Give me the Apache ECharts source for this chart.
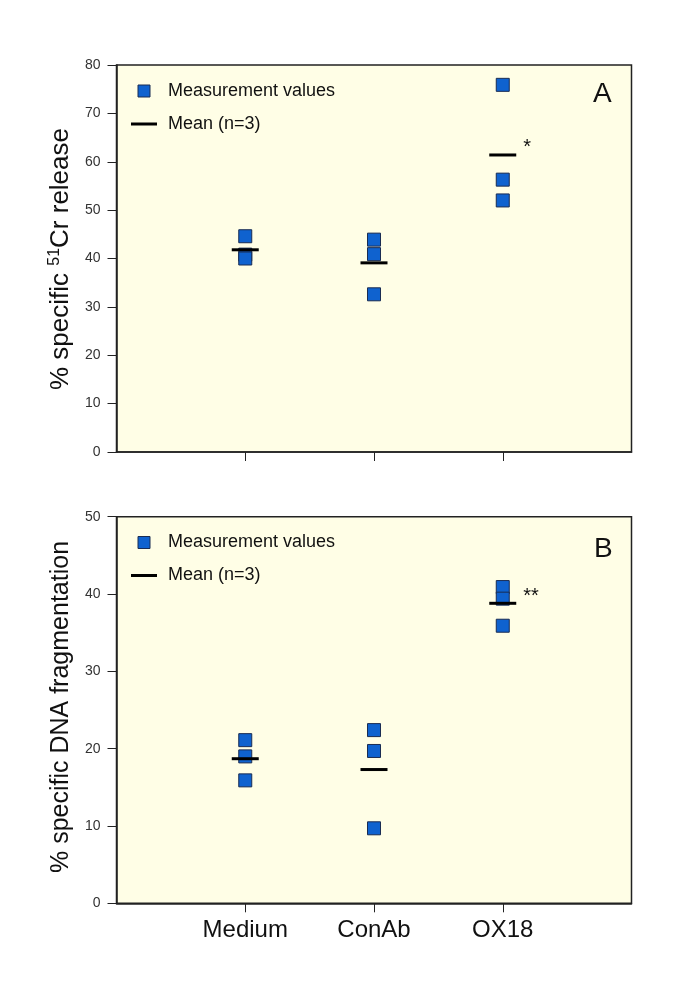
<!DOCTYPE html>
<html><head><meta charset="utf-8">
<script src="https://cdn.jsdelivr.net/npm/echarts@6/dist/echarts.min.js"></script>
<style>html,body{margin:0;padding:0;background:#fff}#c{width:685px;height:989px}</style>
</head><body><div id="c"></div>
<script>
// ---- data ----
const categories = ['Medium', 'ConAb', 'OX18'];
const crValues = [[44.6, 40.8, 40.0], [43.9, 40.9, 32.6], [75.9, 56.3, 52.0]];
const crMeans = [41.8, 39.1, 61.4];
const crMarks = ['', '', '*'];
const dnaValues = [[21.1, 19.0, 15.9], [22.4, 19.7, 9.7], [40.9, 39.4, 35.9]];
const dnaMeans = [18.7, 17.3, 38.8];
const dnaMarks = ['', '', '**'];
const crTicks = { min: 0, max: 80, interval: 10 };
const dnaTicks = { min: 0, max: 50, interval: 10 };
const panelLetters = ['A', 'B'];

const FONT = 'Liberation Sans, Arial, Helvetica, sans-serif';
const SQ_FILL = '#0F62CF';
const SQ_BORDER = '#1A2C52';

function pts(vals) {
  const out = [];
  vals.forEach((arr, i) => arr.forEach(v => out.push([i + 1, v])));
  return out;
}
function meanPts(means, marks) {
  return means.map((m, i) => ({ value: [i + 1, m], label: { show: !!marks[i], formatter: marks[i] } }));
}

const grids = [
  { left: 116.5, top: 65, width: 515, height: 387 },
  { left: 116.5, top: 516.7, width: 515, height: 386.6 }
].map(g => Object.assign(g, { show: true, backgroundColor: '#FFFEE6', borderColor: '#222', borderWidth: 1.5, containLabel: false }));

function xAxis(gi, showLabels) {
  return {
    type: 'value', gridIndex: gi, min: 0, max: 4, interval: 1,
    axisLine: { show: true, onZero: false, lineStyle: { color: '#222', width: 1.5 } },
    axisTick: { show: true, customValues: [1, 2, 3], length: 9, inside: false, lineStyle: { color: '#222', width: 1 } },
    axisLabel: { show: showLabels, customValues: [1, 2, 3], formatter: v => categories[v - 1] || '', fontSize: 24, color: '#111', fontFamily: FONT, margin: 15 },
    splitLine: { show: false }
  };
}
function yAxis(gi, t) {
  return {
    type: 'value', gridIndex: gi, min: t.min, max: t.max, interval: t.interval,
    axisLine: { show: true, lineStyle: { color: '#222', width: 1.5 } },
    axisTick: { show: true, length: 9, inside: false, lineStyle: { color: '#222', width: 1 } },
    axisLabel: { fontSize: 14, color: '#333', fontFamily: FONT, margin: 16 },
    splitLine: { show: false }
  };
}
function series(gi, vals, means, marks) {
  return [
    {
      name: 'Measurement values', type: 'scatter', xAxisIndex: gi, yAxisIndex: gi,
      symbol: 'rect', symbolSize: 13,
      itemStyle: { color: SQ_FILL, borderColor: SQ_BORDER, borderWidth: 1, opacity: 1 },
      data: pts(vals), z: 2
    },
    {
      name: 'Mean (n=3)', type: 'scatter', xAxisIndex: gi, yAxisIndex: gi,
      symbol: 'rect', symbolSize: [27, 3],
      itemStyle: { color: '#000', opacity: 1 },
      label: { position: 'right', distance: 6, offset: [1, -7], fontSize: 20, color: '#111', fontFamily: FONT },
      data: meanPts(means, marks), z: 3
    }
  ];
}
function legend(top) {
  return {
    orient: 'vertical', left: 131, top: top, padding: 0, itemGap: 15,
    itemWidth: 26, itemHeight: 12, selectedMode: false,
    textStyle: { fontSize: 18, color: '#111', fontFamily: FONT, padding: [2, 0, 0, 6] },
    data: [
      { name: 'Measurement values', icon: 'path://M0,0H10V10H0Z', itemStyle: { color: SQ_FILL, borderColor: SQ_BORDER, borderWidth: 1 } },
      { name: 'Mean (n=3)', icon: 'path://M0,0H26V3H0Z', itemStyle: { color: '#000', borderWidth: 0 } }
    ]
  };
}

const chart = echarts.init(document.getElementById('c'), null, { renderer: 'canvas' });
chart.setOption({
  animation: false,
  backgroundColor: '#fff',
  textStyle: { fontFamily: FONT },
  grid: grids,
  xAxis: [xAxis(0, false), xAxis(1, true)],
  yAxis: [yAxis(0, crTicks), yAxis(1, dnaTicks)],
  legend: [legend(82), legend(533.5)],
  title: [
    { text: panelLetters[0], left: 593, top: 80, padding: 0, textStyle: { fontSize: 28, fontWeight: 'normal', color: '#111', fontFamily: FONT } },
    { text: panelLetters[1], left: 594, top: 535, padding: 0, textStyle: { fontSize: 28, fontWeight: 'normal', color: '#111', fontFamily: FONT } }
  ],
  graphic: [
    {
      type: 'text', x: 61, y: 259, rotation: Math.PI / 2,
      style: {
        text: '% specific {sup|51}Cr release', fontSize: 26, fontFamily: FONT, fill: '#111',
        align: 'center', verticalAlign: 'middle', lineHeight: 28,
        rich: { sup: { fontSize: 16, fontFamily: FONT, fill: '#111', verticalAlign: 'top', lineHeight: 16 } }
      }
    },
    {
      type: 'text', x: 61, y: 707, rotation: Math.PI / 2,
      style: {
        text: '% specific DNA fragmentation', fontSize: 25, fontFamily: FONT, fill: '#111',
        align: 'center', verticalAlign: 'middle'
      }
    }
  ],
  series: [...series(0, crValues, crMeans, crMarks), ...series(1, dnaValues, dnaMeans, dnaMarks)]
});
</script></body></html>
